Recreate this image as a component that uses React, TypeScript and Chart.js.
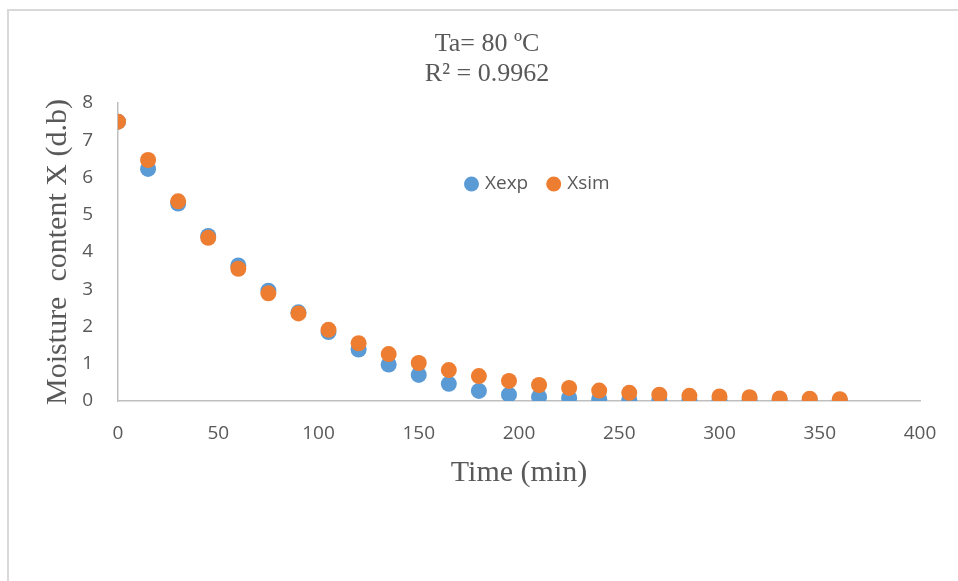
import React, { useEffect, useRef } from "react";
import { Chart, registerables } from "chart.js";

Chart.register(...registerables);

const timeMin = [0, 15, 30, 45, 60, 75, 90, 105, 120, 135, 150, 165, 180, 195, 210, 225, 240, 255, 270, 285, 300, 315, 330, 345, 360];
const xExp = [7.5, 6.23, 5.3, 4.43, 3.64, 2.96, 2.38, 1.85, 1.38, 0.98, 0.7, 0.46, 0.27, 0.17, 0.11, 0.08, 0.05, 0.04, 0.03, 0.03, 0.02, 0.02, 0.01, 0.01, 0.01];
const xSim = [7.5, 6.47, 5.36, 4.38, 3.55, 2.89, 2.35, 1.91, 1.55, 1.26, 1.02, 0.83, 0.67, 0.54, 0.43, 0.35, 0.28, 0.22, 0.17, 0.14, 0.12, 0.1, 0.07, 0.06, 0.05];
const seriesNames = ["Xexp", "Xsim"];
const seriesColors = ["#5B9BD5", "#ED7D31"];
const titleLines = ["Ta= 80 ºC", "R² = 0.9962"];
const xAxisTitle = "Time (min)";
const yAxisTitle = "Moisture  content X (d.b)";

const insideLegend = {
  id: "insideLegend",
  afterDraw(chart: any, _args: any, opts: any) {
    const ctx = chart.ctx;
    ctx.save();
    ctx.font = `${opts.size}px ${opts.family}`;
    ctx.textBaseline = "middle";
    ctx.textAlign = "left";
    let x = opts.x;
    const y = opts.y;
    const r = opts.radius;
    chart.data.datasets.forEach((ds: any) => {
      ctx.beginPath();
      ctx.arc(x + r, y, r, 0, Math.PI * 2);
      ctx.fillStyle = ds.backgroundColor;
      ctx.fill();
      ctx.fillStyle = opts.color;
      ctx.fillText(ds.label, x + 2 * r + opts.gap, y);
      x += 2 * r + opts.gap + ctx.measureText(ds.label).width + opts.itemGap;
    });
    ctx.restore();
  },
};

export default function App() {
  const canvasRef = useRef<HTMLCanvasElement | null>(null);

  useEffect(() => {
    if (!canvasRef.current) return;
    const toPoints = (ys: number[]) => timeMin.map((t, i) => ({ x: t, y: ys[i] }));
    const chart = new Chart(canvasRef.current, {
      type: "scatter",
      data: {
        datasets: [
          {
            label: seriesNames[0],
            data: toPoints(xExp),
            backgroundColor: seriesColors[0],
            borderColor: seriesColors[0],
            pointRadius: 8,
            pointBorderWidth: 0,
            order: 2,
          },
          {
            label: seriesNames[1],
            data: toPoints(xSim),
            backgroundColor: seriesColors[1],
            borderColor: seriesColors[1],
            pointRadius: 8,
            pointBorderWidth: 0,
            order: 1,
          },
        ],
      },
      options: {
        responsive: false,
        animation: false,
        devicePixelRatio: 1,
        layout: { padding: { left: 54, right: 38, top: 0, bottom: 0 } },
        plugins: {
          legend: { display: false },
          tooltip: { enabled: false },
          title: {
            display: true,
            text: titleLines,
            color: "#595959",
            font: { family: "'Liberation Serif', 'Times New Roman', serif", size: 26, lineHeight: 30 / 26, weight: "normal" },
            padding: { top: 29, bottom: 14 },
          },
          insideLegend: {
            x: 464,
            y: 184,
            radius: 7.5,
            gap: 6,
            itemGap: 18,
            size: 19,
            family: "'Open Sans', sans-serif",
            color: "#595959",
          },
        } as any,
        scales: {
          x: {
            type: "linear",
            min: 0,
            max: 400,
            afterFit: (s: any) => {
              s.height = 180;
            },
            ticks: {
              stepSize: 50,
              padding: 21,
              color: "#595959",
              font: { family: "'Open Sans', sans-serif", size: 19 },
            },
            grid: { display: false, drawTicks: false },
            border: { display: true, color: "#BFBFBF", width: 1.5 },
            title: {
              display: true,
              text: xAxisTitle,
              color: "#595959",
              font: { family: "'Liberation Serif', 'Times New Roman', serif", size: 30, lineHeight: 1.2 },
              padding: { top: 0, bottom: 90 },
            },
          },
          y: {
            type: "linear",
            min: 0,
            max: 8,
            afterFit: (s: any) => {
              s.width = 64;
            },
            ticks: {
              stepSize: 1,
              padding: 25,
              color: "#595959",
              font: { family: "'Open Sans', sans-serif", size: 19 },
            },
            grid: { display: false, drawTicks: false },
            border: { display: true, color: "#BFBFBF", width: 1.5 },
            title: {
              display: true,
              text: yAxisTitle,
              color: "#595959",
              font: { family: "'Liberation Serif', 'Times New Roman', serif", size: 30, lineHeight: 1.2 },
              padding: { top: -14, bottom: 0 },
            },
          },
        },
      },
      plugins: [insideLegend],
    });
    return () => chart.destroy();
  }, []);

  return (
    <div style={{ position: "fixed", left: 0, top: 0, width: 958, height: 581, overflow: "hidden", background: "#ffffff" }}>
      <div
        style={{
          position: "absolute",
          left: 7,
          top: 9,
          width: 2000,
          height: 2000,
          borderLeft: "2px solid #D9D9D9",
          borderTop: "2px solid #D9D9D9",
        }}
      />
      <canvas ref={canvasRef} width={958} height={581} style={{ position: "absolute", left: 0, top: 0 }} />
    </div>
  );
}
